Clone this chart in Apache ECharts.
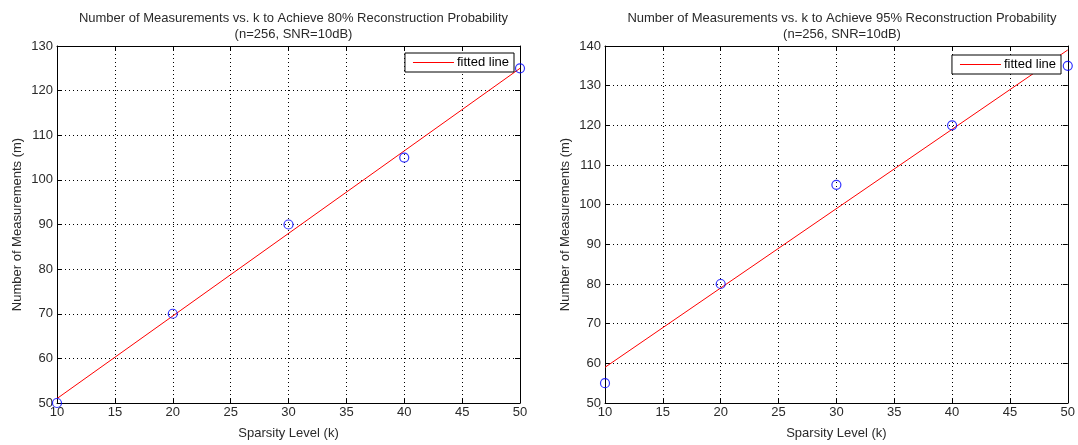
<!DOCTYPE html>
<html>
<head>
<meta charset="utf-8">
<script src="https://cdn.jsdelivr.net/npm/echarts@6/dist/echarts.min.js"></script>
<style>
  html, body { margin: 0; padding: 0; background: #fff; }
  #chart { width: 1078px; height: 445px; }
</style>
</head>
<body>
<div id="chart"></div>
<script>
// Sparsity levels (k) and measured values for both success targets
const sparsity = [10, 20, 30, 40, 50];
const meas80 = [50, 70, 90, 105, 125];
const meas95 = [55, 80, 105, 120, 135];
// Least-squares fitted line endpoints at k = 10 and k = 50
const fitK = [10, 50];
const fit80 = [51, 125];
const fit95 = [59, 139];

const titles = [
  'Number of Measurements vs. k to Achieve 80% Reconstruction Probability\n(n=256, SNR=10dB)',
  'Number of Measurements vs. k to Achieve 95% Reconstruction Probability\n(n=256, SNR=10dB)'
];
const xTicks = { min: 10, max: 50, interval: 5 };
const yRanges = [{ min: 50, max: 130, interval: 10 }, { min: 50, max: 140, interval: 10 }];

const FONT = 'Liberation Sans, Arial, sans-serif';
const TXT = '#2a2a2a';
const FS = 13;

const grids = [
  { left: 57, top: 46, width: 463, bottom: 42 },
  { left: 605, top: 46, width: 464, bottom: 42 }
];

const dotted = { show: true, lineStyle: { color: '#000', width: 1, type: [1, 3] } };
const axLine = { show: true, lineStyle: { color: '#000', width: 1 } };
const tickIn = { show: true, inside: true, length: 5, lineStyle: { color: '#000' } };

const xAxes = [], yAxes = [];
[0, 1].forEach(i => {
  xAxes.push({
    type: 'value', gridIndex: i, position: 'bottom',
    min: xTicks.min, max: xTicks.max, interval: xTicks.interval,
    name: 'Sparsity Level (k)', nameLocation: 'middle', nameGap: 24,
    nameTextStyle: { fontFamily: FONT, fontSize: FS, color: TXT },
    axisLine: axLine, axisTick: tickIn, splitLine: dotted,
    axisLabel: { fontFamily: FONT, fontSize: FS, color: TXT, margin: 3 }
  });
  xAxes.push({
    type: 'value', gridIndex: i, position: 'top',
    min: xTicks.min, max: xTicks.max, interval: xTicks.interval,
    axisLine: axLine, axisTick: tickIn, splitLine: { show: false },
    axisLabel: { show: false }
  });
  yAxes.push({
    type: 'value', gridIndex: i, position: 'left',
    min: yRanges[i].min, max: yRanges[i].max, interval: yRanges[i].interval,
    name: 'Number of Measurements (m)', nameLocation: 'middle', nameGap: 33,
    nameTextStyle: { fontFamily: FONT, fontSize: FS, color: TXT },
    axisLine: axLine, axisTick: tickIn, splitLine: dotted,
    axisLabel: { fontFamily: FONT, fontSize: FS, color: TXT, margin: 4 }
  });
  yAxes.push({
    type: 'value', gridIndex: i, position: 'right',
    min: yRanges[i].min, max: yRanges[i].max, interval: yRanges[i].interval,
    axisLine: axLine, axisTick: tickIn, splitLine: { show: false },
    axisLabel: { show: false }
  });
});

const pointSets = [meas80, meas95];
const fitSets = [fit80, fit95];
const series = [];
[0, 1].forEach(i => {
  series.push({
    name: 'fitted line', type: 'line', xAxisIndex: i * 2, yAxisIndex: i * 2,
    data: fitK.map((k, j) => [k, fitSets[i][j]]),
    showSymbol: false, lineStyle: { color: '#ff0000', width: 1 },
    itemStyle: { color: '#ff0000' }, clip: false, z: 3, animation: false
  });
  series.push({
    name: 'measured', type: 'scatter', xAxisIndex: i * 2, yAxisIndex: i * 2,
    data: sparsity.map((k, j) => [k, pointSets[i][j]]),
    symbol: 'circle', symbolSize: 9,
    itemStyle: { color: 'rgba(0,0,0,0)', borderColor: '#0000ff', borderWidth: 1.2 },
    clip: false, z: 4, animation: false
  });
});

const chart = echarts.init(document.getElementById('chart'), null, { renderer: 'canvas' });
chart.setOption({
  backgroundColor: '#fff',
  animation: false,
  title: titles.map((t, i) => ({
    text: t,
    left: grids[i].left + grids[i].width / 2,
    top: 5,
    textAlign: 'center',
    textStyle: { fontFamily: FONT, fontSize: FS, fontWeight: 'normal', color: TXT, lineHeight: 16, align: 'center' }
  })),
  legend: [
    { right: 1078 - 514, top: 53 },
    { right: 1078 - 1061, top: 55 }
  ].map(l => ({
    data: ['fitted line'],
    right: l.right, top: l.top,
    orient: 'vertical',
    icon: 'rect', itemWidth: 41, itemHeight: 1, itemGap: 4,
    backgroundColor: '#fff', borderColor: '#000', borderWidth: 1,
    padding: [3, 5, 3, 8],
    textStyle: { fontFamily: FONT, fontSize: FS, color: '#000', padding: [0, 0, 0, -2] },
    selectedMode: false
  })),
  grid: grids,
  xAxis: xAxes,
  yAxis: yAxes,
  series: series
});
</script>
</body>
</html>
